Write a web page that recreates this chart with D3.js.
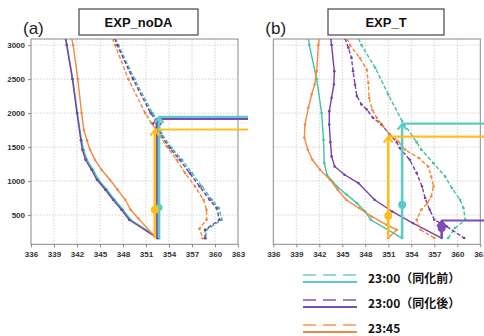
<!DOCTYPE html>
<html>
<head>
<meta charset="utf-8">
<script src="https://cdn.jsdelivr.net/npm/d3@7"></script>
<style>
body { margin: 0; background: #fff; }
text { font-family: "Liberation Sans", Arial, sans-serif; }
</style>
</head>
<body>
<div id="chart"></div>
<script>
// x ticks (K) and y ticks (m)
var thetaTicks = [336, 339, 342, 345, 348, 351, 354, 357, 360, 363];
var heightTicks = [500, 1000, 1500, 2000, 2500, 3000];

// ---- panel (a) EXP_noDA ----
var aPurpleSolidZ = [3100, 3000, 2500, 2000, 1600, 1460, 1313, 1166, 1019, 872, 725, 578, 431, 160];
var aPurpleSolidT = [340.5, 340.65, 341.4, 342.0, 342.5, 342.7, 343.1, 343.9, 344.6, 345.7, 346.7, 347.8, 348.8, 352.5];
var aTealSolidZ   = [3100, 3000, 2500, 2000, 1600, 1460, 1313, 1166, 1019, 872, 725, 578, 431, 160];
var aTealSolidT   = [340.55, 340.7, 341.45, 342.05, 342.6, 342.85, 343.3, 344.1, 344.8, 345.9, 346.9, 348.0, 349.0, 352.7];
var aOrangeSolidZ = [3100, 3000, 2500, 2000, 1750, 1600, 1460, 1313, 1166, 1019, 872, 725, 578, 450, 190];
var aOrangeSolidT = [341.3, 341.5, 342.1, 342.6, 342.9, 343.3, 343.7, 344.35, 345.2, 346.3, 347.3, 348.3, 349.0, 350.0, 352.1];
var aTealDashZ    = [3100, 3000, 2500, 2000, 1880, 1705, 1485, 1313, 1117, 921, 725, 603, 431, 284, 160];
var aTealDashT    = [347.0, 347.4, 349.5, 351.85, 352.65, 353.0, 354.35, 355.7, 357.0, 358.3, 359.6, 360.5, 360.9, 358.9, 358.8];
var aPurpleDashZ  = [3100, 3000, 2500, 2000, 1880, 1705, 1485, 1313, 1117, 921, 725, 603, 431, 284, 160];
var aPurpleDashT  = [346.9, 347.25, 349.3, 351.6, 352.4, 352.8, 354.1, 355.4, 356.7, 358.0, 359.3, 360.2, 360.6, 358.7, 358.7];
var aOrangeDashZ  = [3100, 3000, 2500, 2000, 1853, 1705, 1509, 1313, 1117, 921, 725, 578, 431, 299, 160];
var aOrangeDashT  = [346.6, 346.96, 348.7, 350.9, 351.7, 352.6, 353.7, 355.0, 356.1, 357.4, 358.5, 358.9, 358.9, 357.96, 358.4];
// parcel arrows: [theta, base z, top z, marker z]
var aPurpleArrow = [352.4, 160, 1916, null];
var aTealArrow   = [352.7, 160, 1945, 610];
var aYellowArrow = [352.15, 160, 1759, 578];

// ---- panel (b) EXP_T ----
var bTealSolidZ   = [3100, 3000, 2500, 2000, 1607, 1265, 1093, 921, 799, 676, 553, 431, 162];
var bTealSolidT   = [340.57, 340.7, 341.66, 342.3, 342.55, 342.65, 343.0, 344.3, 345.6, 346.9, 348.0, 348.7, 352.8];
var bOrangeSolidZ = [3100, 3000, 2617, 2421, 2274, 2078, 1832, 1637, 1460, 1313, 1166, 1019, 872, 725, 603, 480, 357, 284, 162];
var bOrangeSolidT = [342.0, 341.87, 341.66, 341.4, 341.0, 340.57, 340.13, 340.05, 340.5, 341.1, 342.1, 343.4, 344.4, 345.5, 347.2, 348.8, 350.8, 352.1, 351.0];
var bPurpleSolidZ = [3100, 3000, 2617, 2421, 2225, 2029, 1832, 1573, 1362, 1215, 1093, 970, 725, 553, 382, 162];
var bPurpleSolidT = [343.5, 343.6, 343.96, 343.9, 343.6, 343.3, 343.3, 343.45, 343.6, 344.0, 345.3, 347.1, 349.2, 351.5, 354.2, 357.96];
var bTealDashZ    = [3100, 3000, 2666, 2274, 1882, 1573, 1460, 1264, 1068, 897, 725, 603, 431, 309, 162];
var bTealDashT    = [347.1, 347.5, 349.3, 351.0, 352.8, 354.7, 355.3, 356.9, 358.4, 359.3, 360.35, 360.8, 361.05, 359.7, 358.8];
var bPurpleDashZ  = [3100, 2960, 2813, 2617, 2421, 2250, 2127, 2053, 1931, 1832, 1685, 1573, 1485, 1313, 1117, 921, 750, 578, 431, 333, 162];
var bPurpleDashT  = [345.35, 345.8, 346.2, 346.4, 346.66, 346.9, 347.5, 348.2, 349.0, 350.1, 351.2, 352.1, 352.5, 353.8, 354.7, 355.4, 355.8, 356.4, 357.0, 358.6, 360.9];
var bOrangeDashZ  = [3100, 3000, 2809, 2637, 2441, 2225, 2049, 1931, 1809, 1685, 1582, 1460, 1338, 1215, 1068, 921, 774, 676, 578, 431, 284, 162];
var bOrangeDashT  = [345.6, 346.0, 347.3, 348.2, 348.4, 348.5, 348.9, 349.5, 350.3, 351.2, 352.3, 353.2, 355.0, 356.2, 356.6, 356.9, 356.6, 356.1, 355.3, 354.7, 355.2, 357.0];
var bPurpleArrow = [357.96, 162, 420, 309];
var bTealArrow   = [352.8, 162, 1845, 651];
var bYellowArrow = [351.0, 162, 1655, 490];

var legendLabels = ["23:00（同化前）", "23:00（同化後）", "23:45"];

var C = {
	teal: "#3fc2a6", tealArrow: "#5ccbc6", tealLight: "#8fdcd6",
	purple: "#7440ad", purpleArrow: "#7d4cb6", purpleLight: "#a07ccc",
	orange: "#f08a3e", orangeLight: "#f5b27f", yellow: "#ffbe1e"
};

var W = 484, H = 336;
var svg = d3.select("#chart").append("svg")
	.attr("width", W)
	.attr("height", H);

var yScale = d3.scaleLinear().domain([70, 3090]).range([244.3, 39]);

function drawPanel(left, right, tag, title, boxX, boxW, profiles, arrows, clipLabelsAt){
	var x = d3.scaleLinear().domain([336, 363]).range([left, right]);
	var g = svg.append("g");

	// grid
	g.selectAll(".gx").data(thetaTicks.slice(1, -1)).enter().append("line")
		.attr("x1", function(d){ return x(d); }).attr("x2", function(d){ return x(d); })
		.attr("y1", yScale.range()[1]).attr("y2", yScale.range()[0])
		.attr("stroke", "#c8c8c8").attr("stroke-width", 0.8).attr("stroke-dasharray", "1.5,1.5");
	g.selectAll(".gy").data(heightTicks).enter().append("line")
		.attr("x1", left).attr("x2", right)
		.attr("y1", function(d){ return yScale(d); }).attr("y2", function(d){ return yScale(d); })
		.attr("stroke", "#c8c8c8").attr("stroke-width", 0.8).attr("stroke-dasharray", "1.5,1.5");

	// axes
	var xAxis = d3.axisBottom(x).tickValues(thetaTicks).tickSize(3).tickFormat(d3.format("d"));
	var gx = g.append("g").attr("transform", "translate(0," + yScale.range()[0] + ")").call(xAxis);
	gx.select(".domain").remove();
	gx.selectAll("line").attr("stroke", "#888");
	gx.selectAll("text").attr("font-size", 8).attr("font-weight", "bold").attr("fill", "#333").attr("dy", "0.9em");

	var yAxis = d3.axisLeft(yScale).tickValues(heightTicks).tickSize(3).tickPadding(3).tickFormat(d3.format("d"));
	var gy = g.append("g").attr("transform", "translate(" + left + ",0)").call(yAxis);
	gy.select(".domain").remove();
	gy.selectAll("line").attr("stroke", "#888");
	gy.selectAll("text").attr("font-size", 8).attr("font-weight", "bold").attr("fill", "#333");
	if (clipLabelsAt) {
		svg.append("clipPath").attr("id", "clipLab").append("rect")
			.attr("x", clipLabelsAt).attr("y", 0).attr("width", W).attr("height", H);
		gy.attr("clip-path", "url(#clipLab)");
	}

	// frame
	g.append("rect")
		.attr("x", left).attr("y", yScale.range()[1])
		.attr("width", right - left).attr("height", yScale.range()[0] - yScale.range()[1])
		.attr("fill", "none").attr("stroke", "#8a8a8a").attr("stroke-width", 1);

	// profiles
	var line = d3.line().x(function(d){ return x(d[0]); }).y(function(d){ return yScale(d[1]); });
	var clipId = "clip" + tag.replace(/\W/g, "");
	svg.append("clipPath").attr("id", clipId).append("rect")
		.attr("x", left).attr("y", yScale.range()[1])
		.attr("width", right - left).attr("height", yScale.range()[0] - yScale.range()[1]);
	var pg = g.append("g").attr("clip-path", "url(#" + clipId + ")");
	profiles.forEach(function(p){
		var pts = d3.zip(p.t, p.z);
		pg.append("path").datum(pts)
			.attr("d", line)
			.attr("fill", "none")
			.attr("stroke", p.color)
			.attr("stroke-width", 1.4)
			.attr("stroke-dasharray", p.dashed ? "4,2" : null);
		pg.selectAll(null).data(pts).enter().append("circle")
			.attr("cx", function(d){ return x(d[0]); })
			.attr("cy", function(d){ return yScale(d[1]); })
			.attr("r", 1.3)
			.attr("fill", p.color);
	});

	// parcel arrows
	var xEnd = right + (W - right > 10 ? 10 : W - right);
	arrows.forEach(function(a){
		var ax = x(a.v[0]), yb = yScale(a.v[1]), yt = yScale(a.v[2]);
		g.append("line").attr("x1", ax).attr("x2", ax).attr("y1", yb).attr("y2", yt + 1)
			.attr("stroke", a.color).attr("stroke-width", 2.6);
		g.append("line").attr("x1", ax).attr("x2", xEnd).attr("y1", yt).attr("y2", yt)
			.attr("stroke", a.color).attr("stroke-width", 2.2);
		g.append("path")
			.attr("d", "M" + (ax - 4.5) + "," + (yt + 6) + "L" + ax + "," + (yt + 0.5) + "L" + (ax + 4.5) + "," + (yt + 6))
			.attr("fill", "none").attr("stroke", a.color).attr("stroke-width", 2.2);
		if (a.v[3] !== null) {
			g.append("circle").attr("cx", ax).attr("cy", yScale(a.v[3])).attr("r", a.r)
				.attr("fill", a.color);
		}
	});

	// labels
	svg.append("text").attr("x", left - 8).attr("y", 34)
		.attr("font-size", 17).attr("fill", "#222").text(tag);
	svg.append("rect").attr("x", boxX).attr("y", 9).attr("width", boxW).attr("height", 26)
		.attr("fill", "#fff").attr("stroke", "#444").attr("stroke-width", 1.2);
	svg.append("text").attr("x", boxX + boxW / 2).attr("y", 27)
		.attr("text-anchor", "middle").attr("font-size", 13).attr("font-weight", "bold")
		.attr("fill", "#111").text(title);
}

drawPanel(31, 238, "(a)", "EXP_noDA", 79, 119, [
	{t: aTealSolidT, z: aTealSolidZ, color: C.teal},
	{t: aPurpleSolidT, z: aPurpleSolidZ, color: C.purple},
	{t: aOrangeSolidT, z: aOrangeSolidZ, color: C.orange},
	{t: aTealDashT, z: aTealDashZ, color: C.teal, dashed: true},
	{t: aPurpleDashT, z: aPurpleDashZ, color: C.purple, dashed: true},
	{t: aOrangeDashT, z: aOrangeDashZ, color: C.orange, dashed: true}
], [
	{v: aPurpleArrow, color: C.purpleArrow, r: 3.5},
	{v: aTealArrow, color: C.tealArrow, r: 3.5},
	{v: aYellowArrow, color: C.yellow, r: 4}
], null);

drawPanel(273.3, 480.3, "(b)", "EXP_T", 328, 116, [
	{t: bTealSolidT, z: bTealSolidZ, color: C.teal},
	{t: bPurpleSolidT, z: bPurpleSolidZ, color: C.purple},
	{t: bOrangeSolidT, z: bOrangeSolidZ, color: C.orange},
	{t: bTealDashT, z: bTealDashZ, color: C.teal, dashed: true},
	{t: bPurpleDashT, z: bPurpleDashZ, color: C.purple, dashed: true},
	{t: bOrangeDashT, z: bOrangeDashZ, color: C.orange, dashed: true}
], [
	{v: bPurpleArrow, color: C.purpleArrow, r: 4},
	{v: bTealArrow, color: C.tealArrow, r: 4},
	{v: bYellowArrow, color: C.yellow, r: 4}
], 246);

// legend
var legColors = [[C.tealLight, C.tealArrow], [C.purpleLight, C.purpleArrow], [C.orangeLight, C.orange]];
var leg = svg.append("g").selectAll("g").data(legendLabels).enter().append("g")
	.attr("transform", function(d, i){ return "translate(303," + (275 + i * 25) + ")"; });
leg.append("line").attr("x1", 0).attr("x2", 54).attr("y1", 0).attr("y2", 0)
	.attr("stroke", function(d, i){ return legColors[i][0]; })
	.attr("stroke-width", 1.8).attr("stroke-dasharray", "13,7");
leg.append("line").attr("x1", 0).attr("x2", 54).attr("y1", 7).attr("y2", 7)
	.attr("stroke", function(d, i){ return legColors[i][1]; })
	.attr("stroke-width", 1.8);
leg.append("text").attr("x", 65).attr("y", 8)
	.attr("font-size", 12).attr("font-weight", "bold").attr("fill", "#111")
	.style("font-family", "'Noto Sans CJK JP', 'Noto Sans', sans-serif")
	.text(function(d){ return d; });
</script>
</body>
</html>
